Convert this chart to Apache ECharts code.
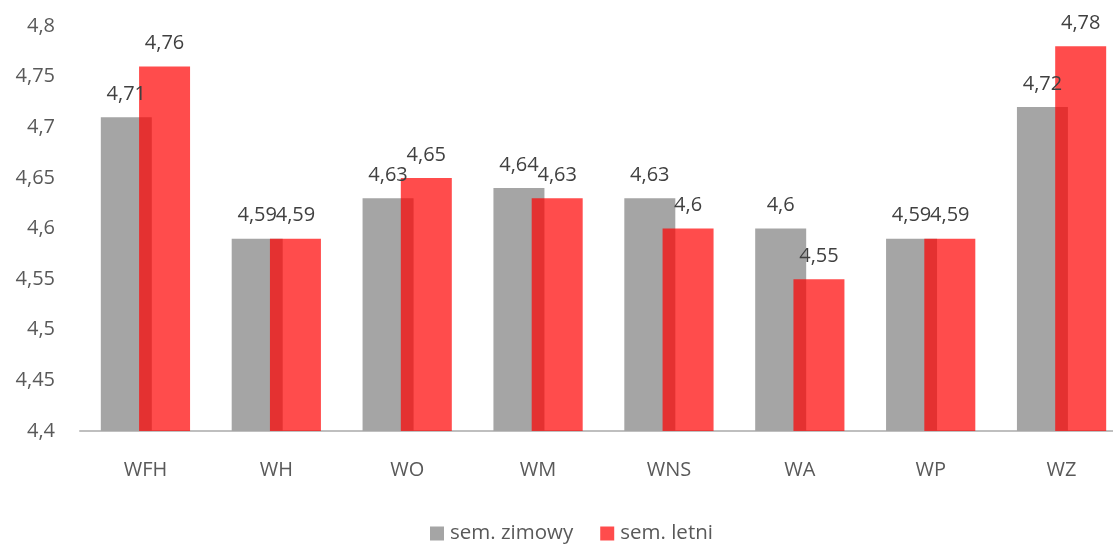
<!DOCTYPE html>
<html><head><meta charset="utf-8">
<script src="https://cdn.jsdelivr.net/npm/echarts@6/dist/echarts.min.js"></script>
<style>html,body{margin:0;padding:0;background:#fff;overflow:hidden;width:1113px;height:545px}#c{width:1130px;height:545px}</style>
</head><body><div id="c"></div>
<script>
const categories = ['WFH','WH','WO','WM','WNS','WA','WP','WZ'];
const zimowy = [4.71,4.59,4.63,4.64,4.63,4.60,4.59,4.72];
const letni = [4.76,4.59,4.65,4.63,4.60,4.55,4.59,4.78];
const seriesNames = ['sem. zimowy','sem. letni'];
const fmt = v => String(+v.toFixed(2)).replace('.', ',');
const FONT = 'Open Sans';
const chart = echarts.init(document.getElementById('c'));
chart.setOption({
  animation:false,
  textStyle:{fontFamily:FONT},
  grid:{left:80,top:26,right:3,height:405,containLabel:false},
  legend:{bottom:-4,left:425,itemWidth:14,itemHeight:14,itemGap:27,
    icon:'rect',textStyle:{fontFamily:FONT,fontSize:20.5,color:'#595959',padding:[0,0,0,1]},data:seriesNames},
  xAxis:{type:'category',data:categories,
    axisLine:{lineStyle:{color:'#BFBFBF',width:2}},axisTick:{show:false},
    axisLabel:{fontFamily:FONT,fontSize:20,color:'#595959',margin:29}},
  yAxis:{type:'value',min:4.4,max:4.8,interval:0.05,
    splitLine:{show:false},axisLine:{show:false},axisTick:{show:false},
    axisLabel:{fontFamily:FONT,fontSize:20,color:'#595959',margin:25,formatter:fmt}},
  series:[
    {name:seriesNames[0],type:'bar',data:zimowy,barWidth:51,barGap:'-25%',
     itemStyle:{color:'#A5A5A5'},
     label:{show:true,position:'top',distance:13,fontFamily:FONT,fontSize:20,color:'#404040',formatter:p=>fmt(p.value)}},
    {name:seriesNames[1],type:'bar',data:letni,barWidth:51,
     itemStyle:{color:'rgba(255,0,0,0.7)'},
     label:{show:true,position:'top',distance:13,fontFamily:FONT,fontSize:20,color:'#404040',formatter:p=>fmt(p.value)}}
  ]
});
</script></body></html>
